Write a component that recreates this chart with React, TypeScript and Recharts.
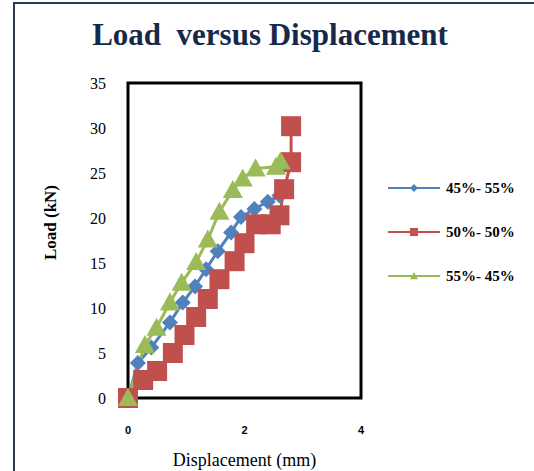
import { LineChart, Line, XAxis, YAxis, ReferenceArea, Label } from "recharts"

// 45%-55%
const blueX = [0, 0.17, 0.4, 0.72, 0.94, 1.15, 1.34, 1.54, 1.77, 1.94, 2.17, 2.4, 2.6, 2.68]
const blueY = [0, 3.9, 5.6, 8.4, 10.6, 12.4, 14.3, 16.3, 18.4, 20.1, 21, 21.8, 22.5, 23.3]

// 50%-50%
const redX = [0, 0.26, 0.5, 0.77, 0.97, 1.17, 1.37, 1.57, 1.83, 2.0, 2.2, 2.45, 2.6, 2.68, 2.8, 2.8]
const redY = [0, 2, 3, 5, 7, 9, 11, 13.2, 15.2, 17.2, 19.3, 19.3, 20.3, 23.2, 26.2, 30.2]

// 55%-45%
const greenX = [0, 0.29, 0.49, 0.72, 0.92, 1.17, 1.37, 1.57, 1.8, 1.97, 2.19, 2.54, 2.62]
const greenY = [0, 5.9, 7.8, 10.6, 12.8, 15.1, 17.6, 20.7, 23.1, 24.4, 25.5, 25.7, 26.3]

const xTicks = [0, 2, 4]
const yTicks = [0, 5, 10, 15, 20, 25, 30, 35]

const toPoints = (xs: number[], ys: number[]) => xs.map((x, i) => ({ x, y: ys[i] }))

const series = [
  { name: "45%- 55%", color: "#4f81bd", shape: "diamond", data: toPoints(blueX, blueY) },
  { name: "50%- 50%", color: "#c0504d", shape: "square", data: toPoints(redX, redY) },
  { name: "55%- 45%", color: "#9bbb59", shape: "triangle", data: toPoints(greenX, greenY) },
]

function Marker({ cx, cy, shape, color, size }: any) {
  if (cx == null || cy == null) return null
  const s = size
  if (shape === "diamond") {
    return <path d={`M${cx},${cy - s}L${cx + s},${cy}L${cx},${cy + s}L${cx - s},${cy}Z`} fill={color} />
  }
  if (shape === "square") {
    return <rect x={cx - s} y={cy - s} width={s * 2} height={s * 2} fill={color} />
  }
  return <path d={`M${cx},${cy - s}L${cx + s},${cy + s * 0.8}L${cx - s},${cy + s * 0.8}Z`} fill={color} />
}

const markerSize: Record<string, number> = { diamond: 8, square: 10, triangle: 10 }

function LegendBox() {
  return (
    <div style={{ position: "absolute", left: 386, top: 166, fontFamily: "Liberation Serif", fontWeight: "bold", fontSize: 15, color: "#000" }}>
      {series.map((s) => (
        <div key={s.name} style={{ display: "flex", alignItems: "center", height: 44 }}>
          <svg width={56} height={14}>
            <line x1={2} y1={7} x2={54} y2={7} stroke={s.color} strokeWidth={2} />
            <Marker cx={28} cy={7} shape={s.shape} color={s.color} size={4} />
          </svg>
          <span style={{ marginLeft: 4 }}>{s.name}</span>
        </div>
      ))}
    </div>
  )
}

export default function App() {
  return (
    <div style={{ position: "absolute", left: 0, top: 0, width: 534, height: 471, overflow: "hidden", background: "#fff" }}>
      <div style={{ position: "absolute", left: 13, top: 2, width: 540, height: 490, border: "2px solid #2b3a4a", boxSizing: "border-box" }} />
      <div
        style={{
          position: "absolute", left: 0, top: 17, width: 540, textAlign: "center",
          fontFamily: "Liberation Serif", fontWeight: "bold", fontSize: 31, color: "#17294a",
          whiteSpace: "pre",
        }}
      >
        {"Load  versus Displacement"}
      </div>
      <LineChart width={534} height={471} margin={{ top: 83, right: 173, bottom: 0, left: 8 }} style={{ position: "absolute", left: 0, top: 0 }}>
        <XAxis
          type="number" dataKey="x" domain={[0, 4]} ticks={xTicks} axisLine={false} tickLine={false}
          height={73} tickMargin={22}
          tick={{ fontFamily: "Liberation Sans", fontWeight: "bold", fontSize: 11, fill: "#000" }}
          allowDuplicatedCategory={false}
        >
          <Label value="Displacement (mm)" position="center" dy={25}
            style={{ fontFamily: "Liberation Serif", fontSize: 18, fill: "#000" }} />
        </XAxis>
        <YAxis
          type="number" dataKey="y" domain={[0, 35]} ticks={yTicks} axisLine={false} tickLine={false}
          width={120} tickMargin={16}
          tick={{ fontFamily: "Liberation Serif", fontSize: 16, fill: "#000" }}
        >
          <Label value="Load (kN)" position="center" angle={-90} dx={-18} dy={-18}
            style={{ fontFamily: "Liberation Serif", fontWeight: "bold", fontSize: 17, fill: "#000" }} />
        </YAxis>
        <ReferenceArea x1={0} x2={4} y1={0} y2={35} fill="none" stroke="#000" strokeWidth={3} ifOverflow="visible" />
        {series.map((s) => (
          <Line
            key={s.name}
            data={s.data}
            dataKey="y"
            name={s.name}
            stroke={s.color}
            strokeWidth={3}
            isAnimationActive={false}
            dot={(p: any) => <Marker key={p.index} cx={p.cx} cy={p.cy} shape={s.shape} color={s.color} size={markerSize[s.shape]} />}
            activeDot={false}
          />
        ))}
      </LineChart>
      <LegendBox />
    </div>
  )
}
